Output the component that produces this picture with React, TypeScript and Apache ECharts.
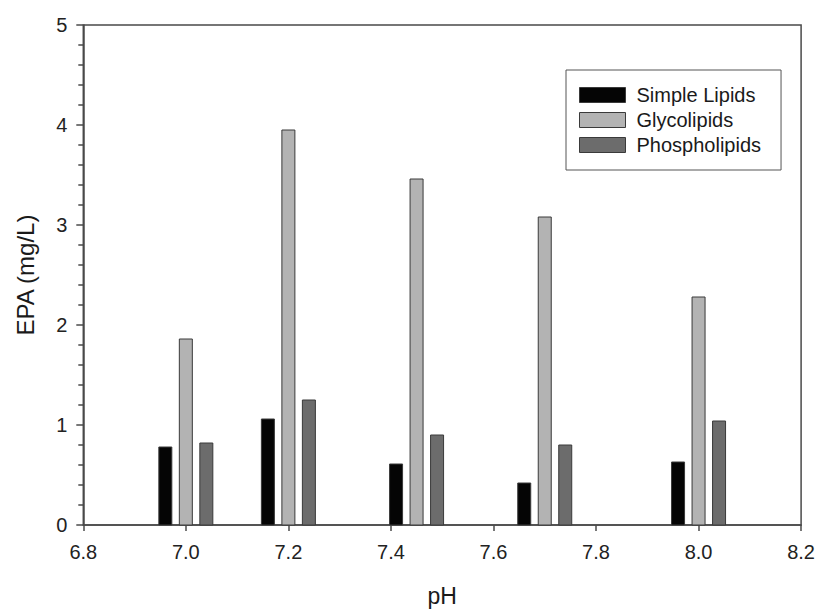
import React, { useEffect, useRef } from "react";
import * as echarts from "echarts";

// pH values at which lipid fractions were measured
const phValues = [7.0, 7.2, 7.45, 7.7, 8.0];
// EPA content (mg/L) per lipid class
const simpleLipids = [0.78, 1.06, 0.61, 0.42, 0.63];
const glycolipids = [1.86, 3.95, 3.46, 3.08, 2.28];
const phospholipids = [0.82, 1.25, 0.9, 0.8, 1.04];

const seriesNames = ["Simple Lipids", "Glycolipids", "Phospholipids"];
const seriesColors = ["#050505", "#b3b3b3", "#6c6c6c"];
const seriesOffsets = [-20.5, 0, 20.5]; // pixel shift of each bar from its pH position
const BAR_WIDTH = 13;
const FONT = "'Liberation Sans', Arial, Helvetica, sans-serif";
const AXIS_COLOR = "#4a4a4a";
const X_MIN = 6.8;
const Y_MAX = 5;

export default function App() {
  const ref = useRef<HTMLDivElement>(null);

  useEffect(() => {
    if (!ref.current) return;
    const chart = echarts.init(ref.current, undefined, { renderer: "svg" });
    const groups = [simpleLipids, glycolipids, phospholipids];

    const barSeries = groups.map((vals, i) => ({
      type: "custom",
      name: seriesNames[i],
      encode: { x: 0, y: 1 },
      data: phValues.map((ph, j) => [ph, vals[j]]),
      itemStyle: { color: seriesColors[i], borderColor: "#3a3a3a", borderWidth: 1 },
      renderItem: (_params: any, api: any) => {
        const x = api.value(0);
        const y = api.value(1);
        const base = api.coord([x, 0]);
        const top = api.coord([x, y]);
        const cx = base[0] + seriesOffsets[i];
        return {
          type: "rect",
          shape: {
            x: cx - BAR_WIDTH / 2,
            y: top[1],
            width: BAR_WIDTH,
            height: base[1] - top[1],
          },
          style: { fill: seriesColors[i], stroke: "#3a3a3a", lineWidth: 1 },
        };
      },
    }));

    chart.setOption({
      animation: false,
      backgroundColor: "#ffffff",
      textStyle: { fontFamily: FONT },
      grid: {
        left: 83.3,
        right: 13,
        top: 25,
        bottom: 83.3,
        show: true,
        borderColor: AXIS_COLOR,
        borderWidth: 1.5,
        backgroundColor: "transparent",
      },
      legend: {
        orient: "vertical",
        left: 566,
        top: 70,
        padding: [15, 20, 15, 13],
        itemWidth: 46,
        itemHeight: 15,
        itemGap: 5,
        icon: "rect",
        borderColor: "#555",
        borderWidth: 1,
        backgroundColor: "#fff",
        textStyle: { fontFamily: FONT, fontSize: 20, color: "#1a1a1a", padding: [0, 0, 0, 6] },
        data: seriesNames.map((n, i) => ({
          name: n,
          itemStyle: { color: seriesColors[i], borderColor: "#3a3a3a", borderWidth: 1 },
        })),
      },
      xAxis: {
        type: "value",
        min: X_MIN,
        max: 8.2,
        interval: 0.2,
        name: "pH",
        nameLocation: "middle",
        nameGap: 59,
        nameTextStyle: { fontFamily: FONT, fontSize: 23, color: "#1a1a1a" },
        axisLine: { show: true, lineStyle: { color: AXIS_COLOR, width: 1.5 } },
        axisTick: { show: true, length: 6, lineStyle: { color: AXIS_COLOR, width: 1.5 } },
        axisLabel: {
          margin: 17,
          fontFamily: FONT,
          fontSize: 20,
          color: "#222",
          formatter: (v: number) => v.toFixed(1),
        },
        splitLine: { show: false },
      },
      yAxis: {
        type: "value",
        min: 0,
        max: Y_MAX,
        interval: 1,
        name: "EPA (mg/L)",
        nameLocation: "middle",
        nameGap: 46,
        nameTextStyle: { fontFamily: FONT, fontSize: 24, color: "#1a1a1a" },
        axisLine: { show: true, lineStyle: { color: AXIS_COLOR, width: 1.5 } },
        axisTick: { show: true, length: 7, lineStyle: { color: AXIS_COLOR, width: 1.5 } },
        minorTick: { show: true, splitNumber: 5, length: 5, lineStyle: { color: AXIS_COLOR, width: 1.5 } },
        axisLabel: { margin: 16, fontFamily: FONT, fontSize: 20, color: "#222" },
        splitLine: { show: false },
        minorSplitLine: { show: false },
      },
      series: barSeries,
    });

    return () => chart.dispose();
  }, []);

  return (
    <div
      ref={ref}
      style={{ position: "fixed", left: 0, top: 0, width: 818, height: 612, background: "#fff" }}
    />
  );
}
